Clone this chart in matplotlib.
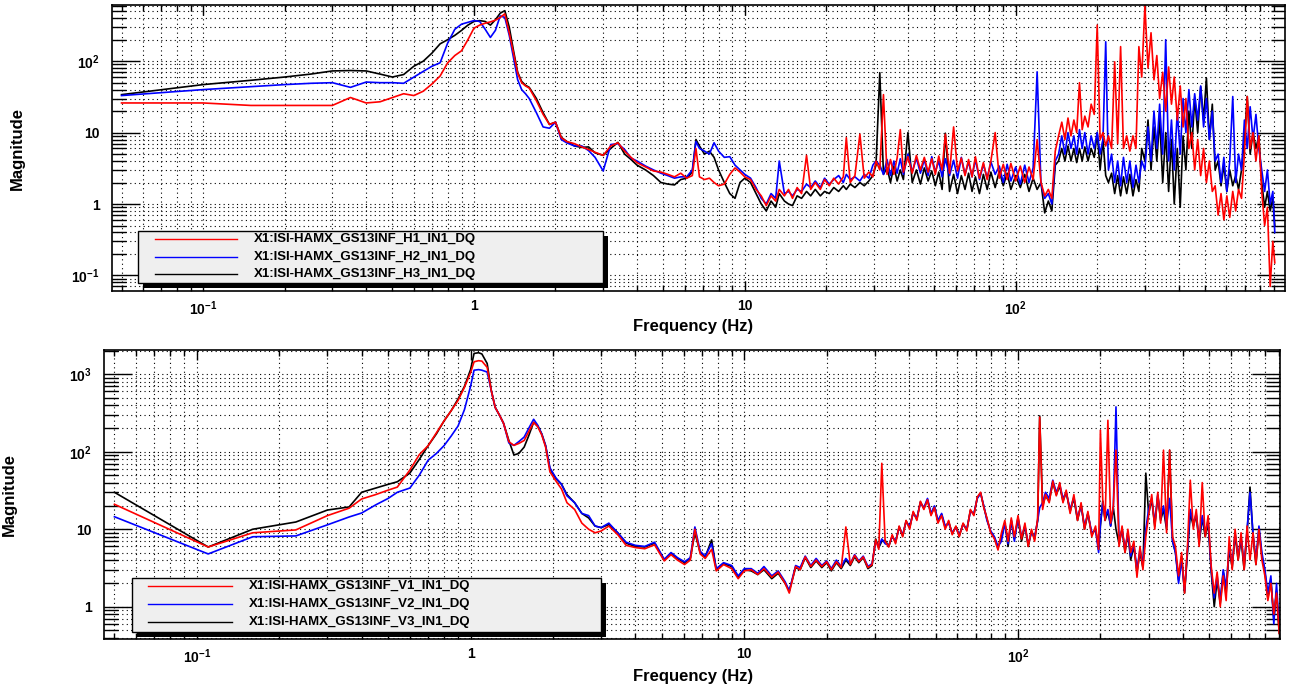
import numpy as np
import matplotlib
matplotlib.use("Agg")
import matplotlib.pyplot as plt
from matplotlib.ticker import LogLocator, NullFormatter, FixedLocator, FixedFormatter
from matplotlib.patches import Rectangle
from matplotlib.lines import Line2D

plt.rcParams['font.family'] = ['Liberation Sans', 'DejaVu Sans']
plt.rcParams['font.weight'] = 'bold'
plt.rcParams['mathtext.fontset'] = 'custom'
plt.rcParams['mathtext.rm'] = 'Liberation Sans:bold'
plt.rcParams['mathtext.it'] = 'Liberation Sans:bold'
plt.rcParams['mathtext.bf'] = 'Liberation Sans:bold'

# ---------------- DATA ----------------
names_top = ["X1:ISI-HAMX_GS13INF_H1_IN1_DQ", "X1:ISI-HAMX_GS13INF_H2_IN1_DQ", "X1:ISI-HAMX_GS13INF_H3_IN1_DQ"]
names_bot = ["X1:ISI-HAMX_GS13INF_V1_IN1_DQ", "X1:ISI-HAMX_GS13INF_V2_IN1_DQ", "X1:ISI-HAMX_GS13INF_V3_IN1_DQ"]
colors = ["#ff0000", "#0000ff", "#000000"]

x_ticks = [0.1, 1, 10, 100]
x_ticklabels = [r"$10^{-1}$", "1", "10", r"$10^{2}$"]
y_ticks_top = [0.1, 1, 10, 100]
y_ticklabels_top = [r"$10^{-1}$", "1", "10", r"$10^{2}$"]
y_ticks_bot = [1, 10, 100, 1000]
y_ticklabels_bot = ["1", "10", r"$10^{2}$", r"$10^{3}$"]

freq_top = [
    0.05, 0.1, 0.15, 0.2, 0.25, 0.3, 0.35, 0.4, 0.45, 0.5, 0.55, 0.6, 0.65, 0.7, 0.75, 0.8, 0.85, 0.9, 0.95, 1.0,
    1.05, 1.1, 1.15, 1.2, 1.25, 1.3, 1.35, 1.4, 1.45, 1.5, 1.55, 1.6, 1.7, 1.8, 1.9, 2.0, 2.1, 2.2, 2.35, 2.5, 2.65, 2.8, 3.0,
    3.2, 3.4, 3.6, 3.8, 4.0, 4.3, 4.6, 4.9, 5.2, 5.5, 5.8, 6.1, 6.4, 6.6, 6.8, 7.1, 7.4, 7.7, 8.0, 8.4, 8.8, 9.2, 9.6, 10.0,
    10.5, 11, 11.5, 12, 12.5, 13, 13.4, 14, 14.5, 15, 15.6, 16.2, 16.9, 17.5, 18.2, 19, 19.7, 20.5, 21.3, 22.2, 23.1, 23.7,
    24.5, 25.5, 26.6, 27.6, 28.7, 29.7,
    30.5, 31.5, 32.5, 33.5, 34.5, 35.5, 36.5, 37.5, 38.5, 40, 41.5, 43, 44.5, 46, 47.5, 49, 50.5, 52, 53.5, 55,
    57, 59, 61, 63, 65, 67, 69, 71, 73.5, 76, 78.5, 81, 84, 87, 90, 93, 96, 100, 104, 108, 112, 116, 120, 124, 128, 132, 136, 140,
    144, 148, 152, 156, 160, 164, 168, 172, 176, 180, 185, 190, 195, 200, 205, 210, 215, 220, 226, 232,
    238, 244, 250, 257, 264, 271, 278, 285, 292, 300, 308, 316, 324, 332, 340, 349, 358, 367, 376, 385,
    395, 405, 415, 425, 436, 447, 458, 470, 482, 494, 506, 519, 532, 545, 559, 573, 587, 602, 617, 633,
    649, 665, 682, 699, 716, 734, 752, 771, 790, 810, 830, 850, 870, 890, 905]

h1_mag = [
    26, 26, 24, 24, 24, 24, 31, 26, 27, 31, 35, 33, 38, 48, 62, 95, 120, 140, 200, 290,
    320, 340, 355, 375, 410, 460, 250, 130, 68, 50, 45, 42, 28, 18, 13, 14, 8.5, 7.5, 7.0, 6.3, 5.8, 5.3, 4.8,
    6.5, 7.2, 5.5, 4.5, 3.8, 3.3, 2.9, 2.8, 2.6, 2.4, 2.7, 2.3, 2.5, 6.0, 2.4, 2.2, 2.3, 2.0, 1.8, 1.9, 2.6, 3.2, 2.8, 2.4,
    2.2, 1.6, 1.3, 0.95, 1.3, 1.1, 1.6, 1.3, 1.6, 1.2, 1.7, 1.4, 4.8, 1.6, 2.0, 1.6, 2.2, 1.8, 2.3, 1.9, 2.4, 8.5,
    2.0, 2.5, 9.5, 2.3, 2.8, 2.4,
    4.0, 3.0, 34, 2.6, 4.2, 2.6, 4.4, 11, 2.8, 4.6, 2.7, 4.8, 3.0, 4.5, 2.8, 4.3, 2.6, 4.7, 3.0, 9.5,
    2.7, 12, 2.9, 4.4, 2.5, 4.2, 2.4, 4.6, 2.3, 3.8, 2.2, 4.0, 10, 2.3, 3.6, 2.2, 3.7, 2.1, 3.4, 2.0, 3.3, 2.2, 8, 2.0, 1.3, 1.6, 1.2, 5.5,
    9, 14, 8, 16, 9, 15, 10, 50, 11, 17, 12, 25, 18, 320, 8, 10, 6.5, 9, 6, 98,
    7, 160, 6, 9, 5.5, 9, 6, 160, 60, 600, 80, 250, 55, 120, 30, 70, 20, 83, 25, 60,
    15, 45, 12, 30, 6, 10, 3, 8, 2.5, 6, 2, 4, 1.5, 1.8, 0.7, 1.4, 0.6, 1.3, 0.65, 1.5,
    0.8, 1.6, 1.2, 5, 32, 6, 10, 4, 9, 1.5, 0.5, 0.9, 0.07, 0.3, 0.15]

h2_mag = [
    33, 40, 44, 47, 49, 50, 43, 51, 50, 50, 49, 60, 72, 85, 95, 180, 280, 330, 350, 370,
    360, 280, 215, 270, 430, 410, 230, 110, 55, 40, 35, 30, 19, 12, 11.5, 14, 8, 7.2, 6.5, 6.5, 5.6, 4.5, 2.9,
    6.8, 7.0, 5.8, 4.4, 4.0, 3.4, 3.0, 2.7, 2.5, 2.3, 2.4, 2.4, 3.0, 7.5, 6.0, 5.5, 5.0, 7.2, 5.5, 4.5, 4.6, 3.5, 3.0, 2.6,
    2.3, 1.7, 1.2, 1.0, 1.4, 1.2, 4.0, 1.4, 1.5, 1.3, 1.6, 1.5, 1.9, 1.7, 2.1, 1.7, 2.3, 1.9, 2.2, 2.5, 2.0, 2.6,
    2.2, 2.4, 2.1, 2.6, 2.3, 3.5,
    4.0, 3.5, 2.6, 4.2, 2.5, 4.0, 2.7, 4.3, 2.6, 5.0, 2.8, 4.4, 2.7, 4.2, 2.5, 4.6, 2.8, 4.0, 2.4, 4.3,
    2.5, 4.1, 2.3, 4.5, 2.6, 3.9, 2.4, 4.2, 2.2, 3.6, 2.3, 3.9, 2.6, 3.4, 2.0, 3.6, 2.1, 3.3, 1.9, 3.5, 2.0, 3.2, 71, 1.9, 1.2, 1.4, 1.0, 4.0,
    5, 9, 5, 10, 6, 9, 5, 11, 6, 10, 5, 9, 6, 10, 5, 8, 187, 3, 5, 2,
    4, 1.8, 4.5, 2, 4, 1.7, 3.5, 2, 4, 3, 12, 4, 20, 6, 25, 5, 200, 4, 15, 3,
    20, 5, 30, 10, 40, 12, 35, 15, 45, 12, 30, 8, 20, 4, 5, 2, 4.5, 1.5, 4, 32,
    2, 5, 3, 15, 6, 23, 8, 18, 6, 3, 1.5, 3, 1.0, 1.5, 0.4]

h3_mag = [
    34, 47, 54, 60, 66, 73, 74, 73, 66, 60, 65, 85, 100, 130, 175, 200, 230, 270, 320, 360,
    370, 360, 320, 380, 470, 510, 300, 140, 70, 52, 46, 43, 30, 19, 13, 14, 8.6, 7.5, 6.5, 6.2, 6.3, 5.2, 4.8,
    6.0, 7.3, 5.0, 4.2, 3.5, 3.0, 2.5, 2.0, 1.9, 1.85, 2.2, 2.3, 2.8, 8.0, 6.5, 5.0, 5.5, 4.5, 3.0, 2.0, 1.4, 1.2, 2.0, 2.3,
    2.0, 1.4, 1.0, 0.8, 1.1, 0.9, 1.4, 1.1, 1.0, 0.95, 1.3, 1.2, 1.5, 1.3, 1.6, 1.3, 1.5, 1.4, 1.7, 1.5, 1.8, 1.6,
    1.9, 1.7, 2.0, 1.8, 2.1, 2.5,
    3.5, 69, 2.6, 3.2, 2.0, 3.4, 2.1, 3.0, 2.2, 10, 2.0, 3.0, 1.9, 3.2, 2.1, 2.9, 1.8, 2.8, 1.6, 9.8,
    1.5, 2.6, 1.4, 2.5, 1.6, 2.7, 1.5, 2.4, 1.4, 2.6, 1.6, 2.8, 1.7, 2.9, 1.8, 2.7, 1.6, 2.5, 1.7, 2.6, 1.5, 2.3, 1.6, 2.0, 0.75, 1.1, 0.8, 3.5,
    4, 6, 4, 6.5, 4, 6, 3.8, 6, 4, 6.3, 4, 6, 4.5, 10, 3, 8, 2.5, 2.0, 2.7, 1.4,
    2.5, 1.3, 2.4, 1.4, 2.6, 1.3, 2.2, 1.5, 6, 4, 15, 3, 12, 4, 16, 2, 10, 1.5, 8, 1.0,
    6, 0.9, 9, 3, 20, 6, 30, 10, 44, 15, 58, 8, 25, 3, 4, 1.8, 3.5, 1.5, 3, 1.8,
    2.5, 1.6, 3, 8, 32, 5, 10, 6, 9, 2, 0.9, 1.5, 0.8, 1.2, 0.5]

freq_bot = [
    0.05, 0.11, 0.16, 0.23, 0.3, 0.36, 0.4, 0.45, 0.5, 0.54, 0.6, 0.65, 0.7, 0.75, 0.8, 0.85, 0.9, 0.95, 1.0, 1.03,
    1.07, 1.1, 1.15, 1.19, 1.23, 1.28, 1.32, 1.38, 1.44, 1.5, 1.57, 1.63, 1.7, 1.76, 1.82, 1.88, 1.95, 2.05, 2.15, 2.25,
    2.4, 2.55, 2.7, 2.85, 3.0, 3.2, 3.45,
    3.7, 4.0, 4.33, 4.7, 5.1, 5.4, 5.7, 6.05, 6.35, 6.6, 6.9, 7.2, 7.6, 7.9, 8.4, 9.0, 9.5, 10.0,
    10.6, 11.2, 11.8, 12.6, 13.3, 14.1, 14.6, 15.4, 16, 16.7, 17.5, 18.3, 19.2, 20, 20.8, 21.7, 22.6, 23.5, 24.4, 25.3,
    26.2, 27.2, 28.3, 29.3,
    30.2, 31, 31.8, 32.7, 33.7, 34.7, 35.7, 36.8, 37.9, 39, 40.2, 41.4, 42.7, 44, 45.3, 46.7, 48.1, 49.5, 51, 52.6,
    54.2, 55.8, 57.5, 59.3, 61, 63, 65, 67, 69, 71, 73, 75, 77, 79.5, 82, 84.5,
    87, 89.5, 92, 94.5, 97, 100, 103, 106, 109, 112, 115, 118, 120, 123, 126, 130, 134, 138, 142, 146,
    150, 155, 160, 165, 170, 175, 180, 186, 192, 197, 200, 204, 208, 213, 218, 223, 228, 234, 240, 246,
    252, 258, 265, 272, 279, 286, 293, 300, 308, 316, 324, 332, 340, 349, 358, 367, 376, 386, 396, 406,
    416, 426, 437, 448, 459, 471, 483, 495, 508, 521, 534, 548, 562, 576, 591, 606, 621, 637, 653, 670,
    687, 704, 722, 740, 759, 778, 798, 818, 839, 860, 880, 900, 915]

v1_mag = [
    21, 5.9, 9, 9.8, 15, 18.7, 24.6, 28, 32, 35, 58, 92, 120, 175, 250, 340, 460, 680, 1050, 1450,
    1500, 1480, 1230, 620, 375, 290, 233, 135, 121, 128, 140, 180, 240, 210, 165, 115, 55, 42, 33, 22,
    18, 12, 10, 9, 9.5, 11, 8.5,
    6.2, 5.8, 5.6, 6.3, 3.9, 4.7, 4.0, 3.5, 4.0, 10, 4.8, 4.2, 5.5, 2.9, 3.5, 3.1, 2.3, 2.9,
    3.0, 2.6, 3.1, 2.4, 2.8, 2.0, 1.5, 3.3, 3.0, 4.4, 3.3, 4.0, 3.3, 3.8, 3.0, 3.8, 3.2, 10.7, 3.5, 4.6,
    3.8, 4.4, 3.2, 3.5,
    7.3, 5.5, 71, 7, 5.9, 8.5, 6.5, 11, 8, 13, 10, 17, 13, 23, 18, 24, 15, 19, 12, 15,
    10, 13, 8.5, 11, 8, 12, 9.5, 18, 15, 26, 30, 19, 14, 9, 7.5, 5.4,
    9, 13, 7, 14, 8, 15, 7.5, 12, 6, 10, 7, 14, 280, 18, 28, 22, 42, 27, 40, 22,
    32, 16, 28, 13, 22, 10, 17, 8, 11, 5.5, 190, 24, 13, 255, 12, 20, 105, 6, 11, 5,
    10, 5, 7, 2.4, 6, 3, 8, 15, 28, 10, 30, 12, 105, 9, 105, 8, 6, 2.5, 5, 1.5,
    6, 43, 10, 18, 6, 40, 8, 15, 3.3, 1.5, 2.8, 1.0, 2.5, 1.2, 8, 3, 10, 4, 9, 3,
    11, 4, 9, 3.5, 10, 4, 2.5, 1.2, 2, 0.8, 1.5, 0.45, 0.8]

v2_mag = [
    14.5, 4.8, 8, 8.2, 11.4, 14.4, 16.2, 20.6, 25, 30, 34, 50, 78, 95, 120, 160, 215, 350, 700, 1130,
    1150, 1130, 1070, 620, 375, 290, 233, 130, 121, 135, 155, 200, 263, 220, 170, 120, 62, 46, 38, 27,
    22, 16, 15, 11, 10.5, 12, 9,
    6.8, 6.2, 6.0, 6.8, 4.1, 5.0, 4.3, 3.8, 4.3, 10.7, 5.2, 4.5, 6.5, 3.1, 3.7, 3.4, 2.5, 3.1,
    3.1, 2.7, 3.3, 2.5, 2.9, 2.1, 1.6, 3.4, 3.2, 4.5, 3.4, 4.2, 3.4, 3.9, 3.1, 4.0, 3.3, 4.2, 3.6, 4.7,
    3.9, 4.5, 3.3, 3.6,
    7, 6, 7.5, 6.5, 6.2, 8, 7, 10.5, 8.5, 12.5, 11, 16, 14, 22, 19, 25, 16, 20, 13, 16,
    11, 12, 9, 10.5, 8.5, 11.5, 10, 17, 16, 25, 29, 20, 13, 9.5, 8, 6,
    7, 12, 6.5, 13, 7, 14, 8, 11, 6.5, 9, 8, 13, 19, 22, 30, 25, 43, 30, 38, 25,
    30, 18, 26, 14, 20, 11, 16, 9, 10, 5, 12, 22, 14, 18, 11, 20, 380, 7, 10, 5.5,
    9, 4.5, 6.5, 3, 5.5, 3.5, 10, 18, 25, 12, 28, 14, 20, 11, 25, 7, 5, 2, 4, 1.6,
    5.5, 18, 12, 16, 7, 15, 9, 13, 3, 1.3, 2.5, 1.2, 3, 1.8, 6, 3.5, 9, 4.5, 8, 3.5,
    10, 30, 9, 4, 11, 5, 3, 1.5, 2.5, 0.6, 2, 0.5, 1.2]

v3_mag = [
    30, 5.9, 10, 12.4, 17.7, 19.4, 30, 34, 38, 41, 53, 80, 120, 170, 250, 340, 480, 700, 1150, 1860,
    1900, 1830, 1380, 620, 375, 290, 233, 140, 91, 95, 115, 160, 240, 215, 170, 120, 60, 45, 38, 28,
    22, 16, 14, 11, 10.5, 11.5, 9,
    6.6, 6.0, 5.9, 6.6, 4.0, 4.9, 4.2, 3.7, 4.2, 9, 5.0, 4.4, 7.3, 3.0, 3.6, 3.3, 2.4, 3.0,
    2.9, 2.6, 3.0, 2.3, 2.7, 2.0, 1.6, 3.2, 3.0, 4.3, 3.2, 3.9, 3.2, 3.7, 2.9, 3.7, 3.1, 4.0, 3.4, 4.4,
    3.7, 4.3, 3.1, 3.4,
    7.5, 5.8, 7, 7.2, 6, 8.2, 6.8, 10.8, 8.2, 12.8, 10.5, 16.5, 13.5, 22.5, 18.5, 24, 15.5, 19.5, 12.5, 15.5,
    10.5, 12.5, 8.8, 10.8, 8.2, 11.8, 9.8, 17.5, 15.5, 25.5, 29.5, 19.5, 13.5, 9.2, 7.8, 5.7,
    8, 12, 6, 13, 7.5, 14, 7, 11, 6, 9.5, 7.5, 13, 290, 20, 27, 23, 40, 28, 36, 23,
    30, 17, 25, 13, 21, 10, 16, 8.5, 10, 5.5, 11, 23, 13, 17, 11, 19, 10, 6.5, 10, 5,
    9, 4, 6, 2.8, 5, 3.2, 53, 16, 24, 11, 27, 13, 18, 10, 105, 7, 5, 2.2, 4.5, 1.5,
    5, 16, 11, 15, 6.5, 14, 8, 12, 2.8, 1.0, 2.2, 1.1, 2.8, 1.5, 5.5, 3.2, 8.5, 4, 7.5, 3,
    9, 35, 8, 3.5, 10, 4.5, 2.8, 1.3, 2.2, 0.7, 1.6, 0.45, 1.0]

# ---------------- FIGURE ----------------
W, H = 1291, 690
fig = plt.figure(figsize=(W / 100, H / 100), dpi=100)
fig.patch.set_facecolor("white")


def add_axes_px(l, t, r, b):
    return fig.add_axes([l / W, 1 - b / H, (r - l) / W, (b - t) / H])


def style_axes(ax, xlim, ylim, yt, ytl):
    ax.set_xscale("log")
    ax.set_yscale("log")
    ax.set_xlim(*xlim)
    ax.set_ylim(*ylim)
    ax.xaxis.set_major_locator(FixedLocator(x_ticks))
    ax.xaxis.set_major_formatter(FixedFormatter(x_ticklabels))
    ax.yaxis.set_major_locator(FixedLocator(yt))
    ax.yaxis.set_major_formatter(FixedFormatter(ytl))
    for axis in (ax.xaxis, ax.yaxis):
        axis.set_minor_locator(LogLocator(base=10, subs=np.arange(2, 10), numticks=60))
        axis.set_minor_formatter(NullFormatter())
    ax.tick_params(which="both", direction="in", top=True, right=True, colors="black",
                   labelsize=10)
    ax.tick_params(axis="y", which="major", length=20, width=1.0, pad=9)
    ax.tick_params(axis="y", which="minor", length=10, width=1.0)
    ax.tick_params(axis="x", which="major", length=7, width=1.0, pad=6)
    ax.tick_params(axis="x", which="minor", length=4, width=1.0)
    ax.grid(True, which="both", color="black", linestyle=(0, (1, 3)), linewidth=0.8)
    ax.set_axisbelow(True)
    for s in ax.spines.values():
        s.set_linewidth(1.2)
        s.set_color("black")
    for lab in ax.get_xticklabels() + ax.get_yticklabels():
        lab.set_fontweight("bold")


def draw_legend(box, line_x, rows, text_x, names):
    l, t, r, b = box
    fig.add_artist(Rectangle(((l + 5) / W, 1 - (b + 5) / H), (r - l) / W, (b - t) / H,
                             transform=fig.transFigure, facecolor="black", edgecolor="none", zorder=5))
    fig.add_artist(Rectangle((l / W, 1 - b / H), (r - l) / W, (b - t) / H,
                             transform=fig.transFigure, facecolor="#efefef", edgecolor="black",
                             linewidth=1.0, zorder=6))
    for y, name, c in zip(rows, names, colors):
        fig.add_artist(Line2D([line_x[0] / W, line_x[1] / W], [1 - y / H, 1 - y / H],
                              transform=fig.transFigure, color=c, linewidth=1.0, zorder=7))
        fig.text(text_x / W, 1 - y / H, name, ha="left", va="center", fontsize=9.5,
                 fontweight="bold", zorder=8)


# top panel
ax1 = add_axes_px(112, 5, 1285, 291)
style_axes(ax1, (0.0461, 987), (0.0605, 612), y_ticks_top, y_ticklabels_top)
for mag, c in zip([h3_mag, h2_mag, h1_mag], [colors[2], colors[1], colors[0]]):
    ax1.plot(freq_top, mag, color=c, linewidth=1.2)

# bottom panel
ax2 = add_axes_px(104, 350, 1280, 639)
style_axes(ax2, (0.0458, 906), (0.383, 2060), y_ticks_bot, y_ticklabels_bot)
for mag, c in zip([v3_mag, v2_mag, v1_mag], [colors[2], colors[1], colors[0]]):
    ax2.plot(freq_bot, mag, color=c, linewidth=1.2)

# axis titles
fig.text(17 / W, 1 - 148 / H, "Magnitude", rotation=90, ha="center", va="center",
         fontsize=12, fontweight="bold")
fig.text(9 / W, 1 - 495 / H, "Magnitude", rotation=90, ha="center", va="center",
         fontsize=12, fontweight="bold")
fig.text(693 / W, 1 - 327 / H, "Frequency (Hz)", ha="center", va="center",
         fontsize=12, fontweight="bold")
fig.text(693 / W, 1 - 677 / H, "Frequency (Hz)", ha="center", va="center",
         fontsize=12, fontweight="bold")

# legends
draw_legend((138, 231, 603, 283), (155, 237), (239, 257, 274), 254, names_top)
draw_legend((132, 578, 601, 632), (148, 232), (586, 604, 622), 249, names_bot)

fig.savefig("out.png", dpi=100, facecolor="white")
